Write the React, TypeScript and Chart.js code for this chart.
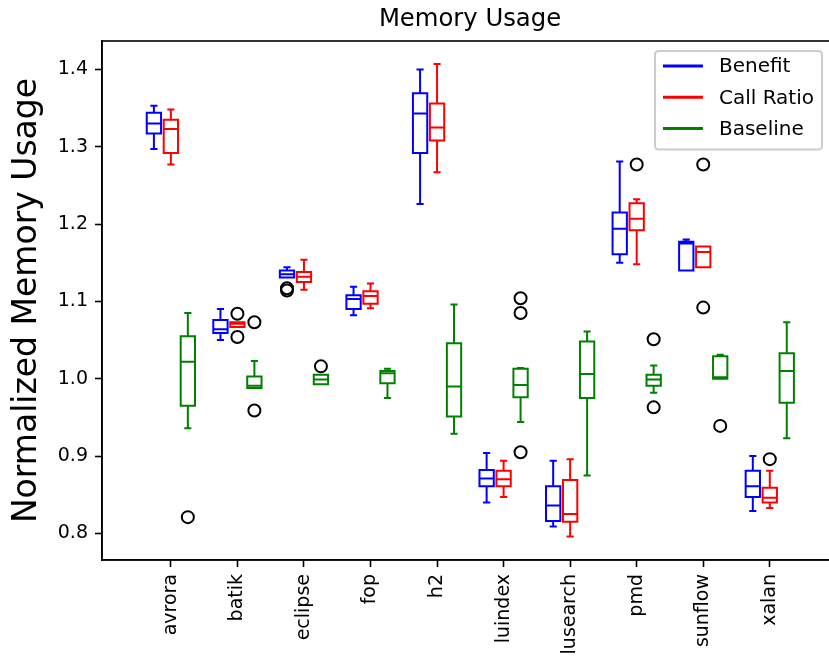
import React, { useEffect, useRef } from "react";
import { Chart, registerables } from "chart.js";

Chart.register(...registerables);

const categories = ["avrora", "batik", "eclipse", "fop", "h2", "luindex", "lusearch", "pmd", "sunflow", "xalan"];
const seriesNames = ["Benefit", "Call Ratio", "Baseline"];
const seriesColors = ["#0000ff", "#ff0000", "#008000"];
const seriesOffsets = [-0.255, 0, 0.255];
const chartTitle = "Memory Usage";

// [low whisker, q1, median, q3, high whisker]
const benefitStats = [
  [1.297, 1.317, 1.33, 1.344, 1.353],
  [1.05, 1.059, 1.064, 1.076, 1.09],
  [1.131, 1.131, 1.135, 1.14, 1.144],
  [1.082, 1.09, 1.103, 1.108, 1.119],
  [1.226, 1.292, 1.343, 1.369, 1.4],
  [0.84, 0.861, 0.871, 0.882, 0.904],
  [0.809, 0.816, 0.836, 0.861, 0.894],
  [1.15, 1.161, 1.194, 1.215, 1.281],
  [1.14, 1.14, 1.175, 1.177, 1.18],
  [0.829, 0.847, 0.861, 0.881, 0.9],
];
const callRatioStats = [
  [1.277, 1.292, 1.323, 1.335, 1.348],
  [1.067, 1.067, 1.071, 1.073, 1.073],
  [1.115, 1.125, 1.132, 1.138, 1.154],
  [1.091, 1.097, 1.107, 1.113, 1.123],
  [1.267, 1.308, 1.325, 1.356, 1.407],
  [0.847, 0.861, 0.87, 0.881, 0.894],
  [0.796, 0.815, 0.825, 0.869, 0.896],
  [1.148, 1.192, 1.207, 1.227, 1.232],
  [1.144, 1.144, 1.164, 1.171, 1.171],
  [0.833, 0.84, 0.846, 0.859, 0.881],
];
const baselineStats = [
  [0.936, 0.965, 1.022, 1.055, 1.085],
  [0.988, 0.988, 0.991, 1.003, 1.023],
  [0.993, 0.993, 0.999, 1.005, 1.005],
  [0.975, 0.994, 1.007, 1.01, 1.013],
  [0.929, 0.951, 0.99, 1.046, 1.096],
  [0.944, 0.976, 0.992, 1.013, 1.014],
  [0.875, 0.975, 1.006, 1.048, 1.061],
  [0.982, 0.991, 0.999, 1.005, 1.017],
  [1.0, 1.0, 1.002, 1.029, 1.031],
  [0.923, 0.969, 1.01, 1.033, 1.073],
];

const benefitOutliers = [[], [], [1.114, 1.117], [], [], [], [], [], [], []];
const callRatioOutliers = [[], [1.084, 1.054], [], [], [], [], [], [1.277], [1.277, 1.092], [0.896]];
const baselineOutliers = [[0.821], [1.073, 0.959], [1.016], [], [], [1.104, 1.085, 0.905], [], [1.051, 0.963], [0.939], []];

const yTicks = [0.8, 0.9, 1.0, 1.1, 1.2, 1.3, 1.4];
const yTickLabels = ["0.8", "0.9", "1.0", "1.1", "1.2", "1.3", "1.4"];

const allStats = [benefitStats, callRatioStats, baselineStats];
const allOutliers = [benefitOutliers, callRatioOutliers, baselineOutliers];

const FONT = "'DejaVu Sans', sans-serif";
const BOX_WIDTH = 0.215;

const boxPlugin = {
  id: "boxes",
  beforeDatasetsDraw(chart: any) {
    const { ctx, scales } = chart;
    const x = scales.x;
    const y = scales.y;
    ctx.save();
    ctx.lineWidth = 2;
    allStats.forEach((stats, s) => {
      ctx.strokeStyle = seriesColors[s];
      stats.forEach((st, i) => {
        const pos = i + seriesOffsets[s];
        const xl = x.getPixelForValue(pos - BOX_WIDTH / 2);
        const xr = x.getPixelForValue(pos + BOX_WIDTH / 2);
        const xc = x.getPixelForValue(pos);
        const cl = x.getPixelForValue(pos - BOX_WIDTH / 4);
        const cr = x.getPixelForValue(pos + BOX_WIDTH / 4);
        const [lo, q1, med, q3, hi] = st.map((v) => y.getPixelForValue(v));
        ctx.beginPath();
        ctx.rect(xl, q3, xr - xl, q1 - q3);
        ctx.moveTo(xl, med);
        ctx.lineTo(xr, med);
        ctx.moveTo(xc, q3);
        ctx.lineTo(xc, hi);
        ctx.moveTo(xc, q1);
        ctx.lineTo(xc, lo);
        ctx.moveTo(cl, hi);
        ctx.lineTo(cr, hi);
        ctx.moveTo(cl, lo);
        ctx.lineTo(cr, lo);
        ctx.stroke();
      });
    });
    ctx.restore();
  },
  afterDraw(chart: any) {
    const { ctx, chartArea } = chart;
    ctx.save();
    // frame
    ctx.strokeStyle = "#000";
    ctx.lineWidth = 1.6;
    ctx.strokeRect(chartArea.left, chartArea.top, chartArea.right - chartArea.left, chartArea.bottom - chartArea.top);
    // title, centred over the axes
    ctx.font = `24.3px ${FONT}`;
    ctx.fillStyle = "#000";
    ctx.textAlign = "center";
    ctx.textBaseline = "alphabetic";
    ctx.fillText(chartTitle, (chartArea.left + chartArea.right) / 2 + 3, 26);
    // legend
    ctx.font = `20px ${FONT}`;
    const textW = Math.max(...seriesNames.map((n) => ctx.measureText(n).width));
    const right = chartArea.right - 10;
    const top = chartArea.top + 10;
    const width = 8 + 40 + 16 + textW + 8;
    const left = right - width;
    const height = 98.5;
    const r = 4;
    ctx.beginPath();
    ctx.moveTo(left + r, top);
    ctx.lineTo(right - r, top);
    ctx.quadraticCurveTo(right, top, right, top + r);
    ctx.lineTo(right, top + height - r);
    ctx.quadraticCurveTo(right, top + height, right - r, top + height);
    ctx.lineTo(left + r, top + height);
    ctx.quadraticCurveTo(left, top + height, left, top + height - r);
    ctx.lineTo(left, top + r);
    ctx.quadraticCurveTo(left, top, left + r, top);
    ctx.closePath();
    ctx.fillStyle = "rgba(255,255,255,0.8)";
    ctx.fill();
    ctx.strokeStyle = "#cccccc";
    ctx.lineWidth = 2;
    ctx.stroke();
    seriesNames.forEach((name, k) => {
      const cy = top + 15 + k * 31.3;
      ctx.strokeStyle = seriesColors[k];
      ctx.lineWidth = 3;
      ctx.beginPath();
      ctx.moveTo(left + 8, cy);
      ctx.lineTo(left + 48, cy);
      ctx.stroke();
      ctx.fillStyle = "#000";
      ctx.textBaseline = "middle";
      ctx.textAlign = "left";
      ctx.fillText(name, left + 64, cy + 1);
    });
    ctx.restore();
  },
};

export default function App() {
  const canvasRef = useRef<HTMLCanvasElement | null>(null);

  useEffect(() => {
    if (!canvasRef.current) return;
    const datasets: any[] = seriesNames.map((name, s) => ({
      label: name,
      type: "scatter",
      data: allStats[s].map((st, i) => ({ x: i + seriesOffsets[s], y: st[2] })),
      pointRadius: 0,
      pointHoverRadius: 0,
      borderColor: seriesColors[s],
      backgroundColor: seriesColors[s],
      showLine: false,
    }));
    const fliers: any[] = [];
    allOutliers.forEach((outs, s) => {
      outs.forEach((vals, i) => {
        vals.forEach((v) => fliers.push({ x: i + seriesOffsets[s], y: v }));
      });
    });
    datasets.push({
      label: "outliers",
      type: "scatter",
      data: fliers,
      pointStyle: "circle",
      pointRadius: 6,
      pointBorderWidth: 2,
      pointBorderColor: "#000",
      pointBackgroundColor: "rgba(0,0,0,0)",
      showLine: false,
    });

    const chart = new Chart(canvasRef.current, {
      type: "scatter",
      data: { datasets },
      plugins: [boxPlugin],
      options: {
        animation: false,
        responsive: false,
        maintainAspectRatio: false,
        layout: { padding: { left: 0, right: 4, top: 41, bottom: 0 } },
        plugins: {
          legend: { display: false },
          tooltip: { enabled: false },
          title: { display: false },
        },
        scales: {
          x: {
            type: "linear",
            min: -1.035,
            max: 9.935,
            afterFit: (scale: any) => {
              scale.height = 106;
            },
            afterBuildTicks: (scale: any) => {
              scale.ticks = categories.map((_, i) => ({ value: i }));
            },
            grid: { drawOnChartArea: false, drawTicks: true, tickLength: 7, tickColor: "#000", tickWidth: 1.6 },
            border: { display: true, color: "#000", width: 1.6 },
            ticks: {
              autoSkip: false,
              minRotation: 90,
              maxRotation: 90,
              padding: 7,
              color: "#000",
              font: { family: FONT, size: 19 },
              callback: (v: any) => categories[Math.round(Number(v))] ?? "",
            },
          },
          y: {
            type: "linear",
            min: 0.7656,
            max: 1.4367,
            afterFit: (scale: any) => {
              scale.width = 102;
            },
            afterBuildTicks: (scale: any) => {
              scale.ticks = yTicks.map((v) => ({ value: v }));
            },
            grid: { drawOnChartArea: false, drawTicks: true, tickLength: 7, tickColor: "#000", tickWidth: 1.6 },
            border: { display: true, color: "#000", width: 1.6 },
            ticks: {
              padding: 7,
              color: "#000",
              font: { family: FONT, size: 19 },
              callback: (v: any) => {
                const idx = yTicks.findIndex((t) => Math.abs(t - Number(v)) < 1e-6);
                return idx >= 0 ? yTickLabels[idx] : "";
              },
            },
            title: {
              display: true,
              text: "Normalized Memory Usage",
              color: "#000",
              font: { family: FONT, size: 33, lineHeight: 1.2 },
              padding: { top: 8, bottom: 0 },
            },
          },
        },
      } as any,
    });
    return () => chart.destroy();
  }, []);

  return (
    <div style={{ position: "absolute", left: 0, top: 0, width: 829, height: 666, overflow: "hidden", background: "#fff" }}>
      <canvas ref={canvasRef} width={840} height={666} style={{ display: "block", width: 840, height: 666 }} />
    </div>
  );
}
